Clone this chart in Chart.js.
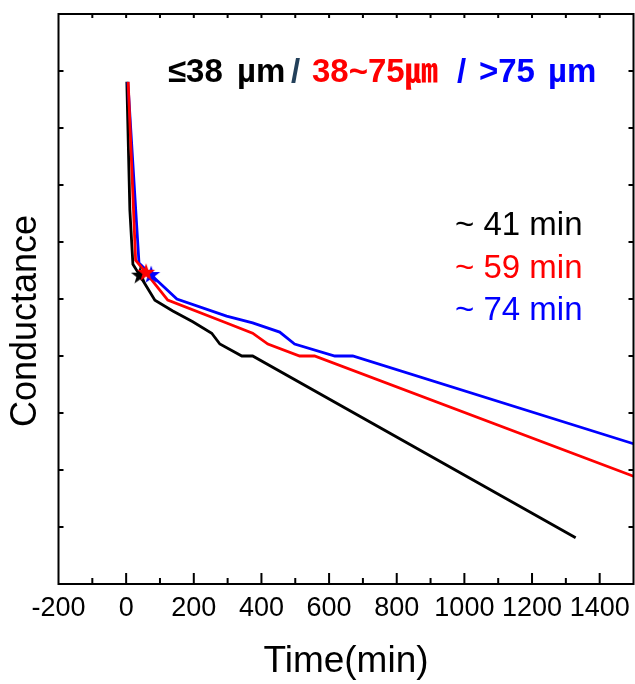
<!DOCTYPE html>
<html>
<head>
<meta charset="utf-8">
<script src="https://cdn.jsdelivr.net/npm/chart.js@4.4.1/dist/chart.umd.min.js"></script>
<style>
  html, body { margin: 0; padding: 0; background: #fff; }
</style>
</head>
<body>
<canvas id="conductanceChart" width="635" height="684"></canvas>
<script>
// values (time in min, conductance in arbitrary units 0-10)
const fineTime = [2, 11, 20, 41, 49, 85, 138, 197, 253, 277, 342, 374, 1329];
const fineCond = [8.81, 6.56, 5.61, 5.41, 5.33, 4.98, 4.79, 4.60, 4.40, 4.21, 4.0, 4.0, 0.81];

const mediumTime = [6, 28, 59, 123, 297, 374, 419, 513, 557, 1500];
const mediumCond = [8.81, 5.68, 5.46, 4.98, 4.58, 4.40, 4.21, 4.0, 4.0, 1.89];

const coarseTime = [5, 38, 74, 150, 297, 374, 454, 498, 617, 670, 1500];
const coarseCond = [8.81, 5.63, 5.42, 5.0, 4.70, 4.58, 4.42, 4.21, 4.0, 4.0, 2.46];

// star markers (time at which the curve levels off)
const markTime = [41, 59, 74];
const markCond = [5.41, 5.46, 5.42];
const markText = ['~ 41 min', '~ 59 min', '~ 74 min'];

const xTickValues = [-200, 0, 200, 400, 600, 800, 1000, 1200, 1400];
const colors = ['#000000', '#ff0000', '#0000ff'];

const toPoints = (xs, ys) => xs.map((x, i) => ({ x: x, y: ys[i] }));

function makeStar(color) {
    const c = document.createElement('canvas');
    c.width = 20; c.height = 20;
    const g = c.getContext('2d');
    g.fillStyle = color;
    g.beginPath();
    for (let i = 0; i < 10; i++) {
        const r = i % 2 === 0 ? 9.5 : 3.8;
        const a = -Math.PI / 2 + i * Math.PI / 5;
        g.lineTo(10 + r * Math.cos(a), 10 + r * Math.sin(a));
    }
    g.closePath();
    g.fill();
    return c;
}

const lineSet = (xs, ys, color, order) => ({
    data: toPoints(xs, ys),
    showLine: true,
    borderColor: color,
    borderWidth: 2.8,
    pointRadius: 0,
    fill: false,
    order: order
});

const starSet = (i, order) => ({
    data: [{ x: markTime[i], y: markCond[i] }],
    showLine: false,
    pointStyle: makeStar(colors[i]),
    pointRadius: 10,
    order: order
});

// frame, inward ticks, tick labels and the text annotations
const decorations = {
    id: 'decorations',
    afterDraw(chart) {
        const { ctx, chartArea: a, scales: { x, y } } = chart;
        ctx.save();
        ctx.strokeStyle = '#000';
        ctx.lineWidth = 2;
        ctx.strokeRect(a.left, a.top, a.right - a.left, a.bottom - a.top);

        ctx.beginPath();
        for (let t = -100; t < 1500; t += 100) {
            const px = x.getPixelForValue(t);
            const major = t % 200 === 0;
            ctx.moveTo(px, a.bottom);
            ctx.lineTo(px, a.bottom - (major ? 11 : 6));
            ctx.moveTo(px, a.top);
            ctx.lineTo(px, a.top + 4);
        }
        for (let v = 1; v < 10; v++) {
            const py = y.getPixelForValue(v);
            ctx.moveTo(a.left, py);
            ctx.lineTo(a.left + 5, py);
            ctx.moveTo(a.right, py);
            ctx.lineTo(a.right - 5, py);
        }
        ctx.stroke();

        ctx.fillStyle = '#000';
        ctx.textAlign = 'center';
        ctx.textBaseline = 'middle';

        // x tick labels
        ctx.font = '27px "Liberation Sans", Arial, sans-serif';
        xTickValues.forEach(v => {
            ctx.fillText(String(v), x.getPixelForValue(v), a.bottom + 25);
        });

        // y axis title
        ctx.font = '36px "Liberation Sans", Arial, sans-serif';
        ctx.save();
        ctx.translate(26, 321);
        ctx.rotate(-Math.PI / 2);
        ctx.fillText('Conductance', 0, 0);
        ctx.restore();

        // header
        ctx.textAlign = 'left';
        ctx.font = 'bold 33px "Liberation Sans", Arial, "Noto Sans CJK KR", sans-serif';
        const header = [
            ['≤38', 168, '#000000'],
            ['µm', 237, '#000000'],
            ['/', 291, '#23405a'],
            ['38~75㎛', 312, '#ff0000'],
            ['/', 457, '#0000ff'],
            ['>75', 479, '#0000ff'],
            ['µm', 548, '#0000ff']
        ];
        header.forEach(([txt, hx, col]) => {
            ctx.fillStyle = col;
            ctx.fillText(txt, hx, 73);
        });

        // onset times
        ctx.font = '33px "Liberation Sans", Arial, sans-serif';
        markText.forEach((txt, i) => {
            ctx.fillStyle = colors[i];
            ctx.fillText(txt, 455, 226 + i * 42.5);
        });
        ctx.restore();
    }
};

new Chart(document.getElementById('conductanceChart').getContext('2d'), {
    type: 'scatter',
    data: {
        datasets: [
            lineSet(fineTime, fineCond, colors[0], 5),
            lineSet(mediumTime, mediumCond, colors[1], 3),
            lineSet(coarseTime, coarseCond, colors[2], 4),
            starSet(0, 2),
            starSet(1, 0),
            starSet(2, 1)
        ]
    },
    options: {
        responsive: false,
        animation: false,
        devicePixelRatio: 1,
        layout: { autoPadding: false, padding: { top: 14, right: 1.5, bottom: 0, left: 0 } },
        scales: {
            x: {
                type: 'linear',
                position: 'bottom',
                min: -200,
                max: 1500,
                grid: { display: false, drawTicks: false },
                border: { display: false },
                ticks: { display: false },
                afterFit: s => { s.height = 100; },
                title: {
                    display: true,
                    text: 'Time(min)',
                    color: '#000',
                    font: { family: '"Liberation Sans", Arial, sans-serif', size: 37 },
                    padding: { top: 0, bottom: 0 }
                }
            },
            y: {
                type: 'linear',
                min: 0,
                max: 10,
                grid: { display: false, drawTicks: false },
                border: { display: false },
                ticks: { display: false },
                afterFit: s => { s.width = 58.5; }
            }
        },
        plugins: {
            legend: { display: false },
            tooltip: { enabled: false }
        }
    },
    plugins: [decorations]
});
</script>
</body>
</html>
